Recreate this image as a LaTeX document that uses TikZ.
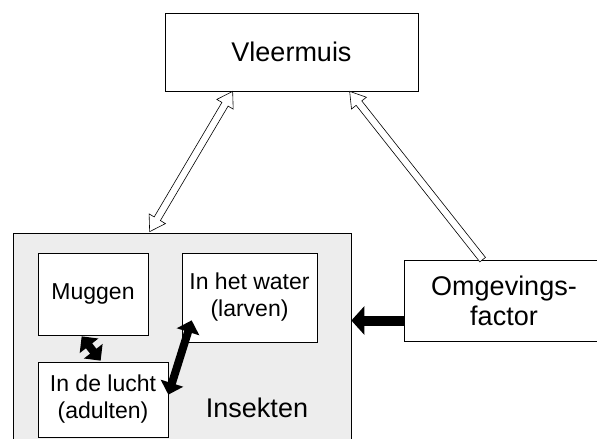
\documentclass[tikz,border=0pt]{standalone}
\usepackage{fontspec}
\setmainfont{Liberation Sans}
\usetikzlibrary{calc,arrows.meta}
\newcommand\hl{15pt}
\newcommand\hw{3.6pt}
\newcommand\hW{9.5pt}
\newcommand\hollowdouble[2]{%
 \draw[hollowarr] let \p1=(#1), \p2=(#2), \n1={atan2(\y2-\y1,\x2-\x1)} in
 (\p1) -- ($(\p1)+(\n1:\hl)+(\n1+90:\hW)$) -- ($(\p1)+(\n1:\hl)+(\n1+90:\hw)$)
 -- ($(\p2)+(\n1+180:\hl)+(\n1+90:\hw)$) -- ($(\p2)+(\n1+180:\hl)+(\n1+90:\hW)$)
 -- (\p2) -- ($(\p2)+(\n1+180:\hl)+(\n1-90:\hW)$) -- ($(\p2)+(\n1+180:\hl)+(\n1-90:\hw)$)
 -- ($(\p1)+(\n1:\hl)+(\n1-90:\hw)$) -- ($(\p1)+(\n1:\hl)+(\n1-90:\hW)$) -- cycle;}
\newcommand\hollowsingle[2]{%
 \draw[hollowarr] let \p1=(#1), \p2=(#2), \n1={atan2(\y2-\y1,\x2-\x1)} in
 ($(\p1)+(\n1+90:\hw)$)
 -- ($(\p2)+(\n1+180:\hl)+(\n1+90:\hw)$) -- ($(\p2)+(\n1+180:\hl)+(\n1+90:\hW)$)
 -- (\p2) -- ($(\p2)+(\n1+180:\hl)+(\n1-90:\hW)$) -- ($(\p2)+(\n1+180:\hl)+(\n1-90:\hw)$)
 -- ($(\p1)+(\n1-90:\hw)$) -- cycle;}
\tikzset{
  box/.style={draw=black, line width=0.7pt, fill=white, rectangle, inner sep=0pt, align=center},
  bigtxt/.style={font=\fontsize{27}{30}\selectfont},
  smalltxt/.style={font=\fontsize{23}{27}\selectfont},
  hollowarr/.style={draw=black, line width=0.6pt, fill=white, line join=miter},
  blackarr/.style={line width=8pt, {Triangle[length=12pt,width=23pt]}-{Triangle[length=12pt,width=23pt]}},
  blackone/.style={line width=10pt, -{Triangle[length=13pt,width=28pt]}},
}
\begin{document}
\begin{tikzpicture}[x=1pt,y=-1pt]
\useasboundingbox (0,0) rectangle (597,439);
\clip (0,0) rectangle (597,439);
\fill[white] (0,0) rectangle (597,439);
% nodes
\node[box, minimum width=253pt, minimum height=78pt, bigtxt] (vl) at (291.5,52) {Vleermuis};
\node[box, fill=black!7, minimum width=338pt, minimum height=227pt] (ins) at (182,346.5) {};
\node[inner sep=0pt, bigtxt] (inslab) at (257,408) {Insekten};
\node[box, minimum width=110pt, minimum height=82pt, smalltxt] (mug) at (93,294) {Muggen};
\node[box, minimum width=135pt, minimum height=89pt, smalltxt] (wat) at (249.5,297.5) {In het water\\(larven)};
\node[box, minimum width=130pt, minimum height=75pt, smalltxt] (lu) at (103,399.5) {In de lucht\\(adulten)};
\node[box, minimum width=200pt, minimum height=81pt, bigtxt] (om) at (504,300.5) {Omgevings-\\factor};
% connector end points
\coordinate (v1) at ($(vl.south west)+(68,0)$);
\coordinate (v2) at ($(vl.south west)+(185,0)$);
\coordinate (i1) at ($(ins.north west)+(137,-1)$);
\coordinate (o1) at ($(om.north west)+(79,0)$);
\coordinate (m1) at ($(mug.south west)+(44,1)$);
\coordinate (l1) at ($(lu.north west)+(63,-1)$);
\coordinate (l2) at ($(lu.north east)+(0,33)$);
\coordinate (w1) at ($(wat.south west)+(10,-22)$);
\coordinate (o2) at ($(om.west)+(0,20)$);
\coordinate (i2) at (ins.east |- o2);
% connectors
\hollowdouble{i1}{v1}
\hollowsingle{o1}{v2}
\draw[blackone] (o2) -- (i2);
\draw[blackarr] (m1) -- (l1);
\draw[blackarr] (l2) -- (w1);
\end{tikzpicture}
\end{document}
